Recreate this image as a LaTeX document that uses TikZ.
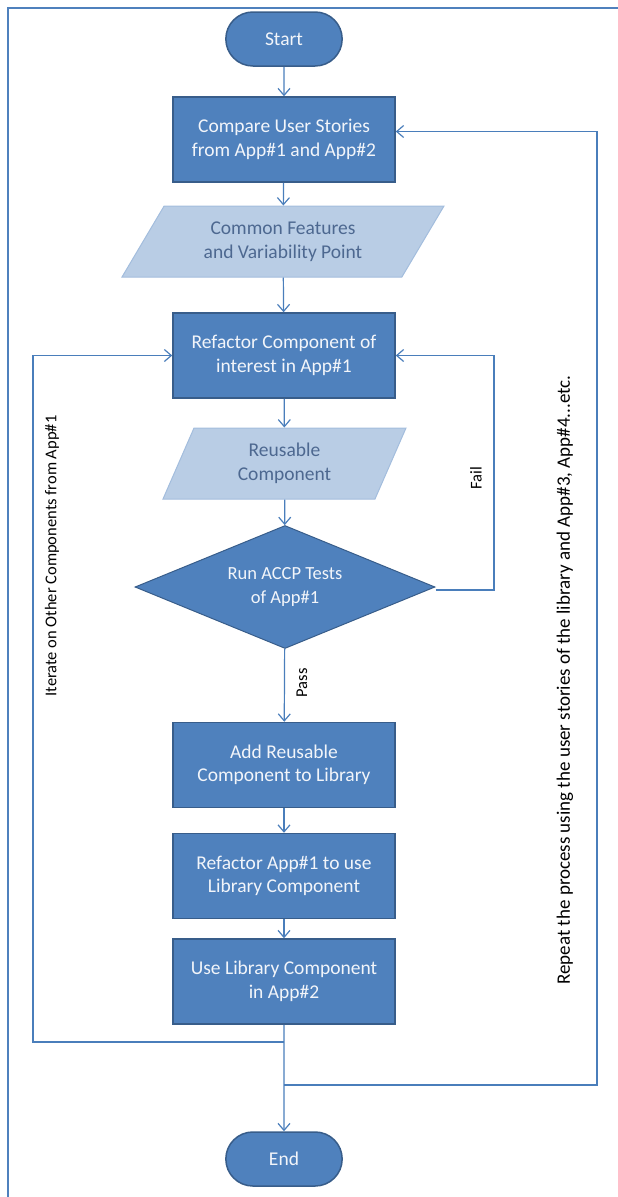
\documentclass[tikz,border=0pt]{standalone}
\usepackage{fontspec}
\setmainfont{Carlito}
\usetikzlibrary{shapes.geometric,shapes.misc,arrows.meta}
\definecolor{boxfill}{HTML}{4F81BD}
\definecolor{boxline}{HTML}{385D8A}
\definecolor{iofill}{HTML}{B9CDE5}
\definecolor{ioline}{HTML}{A3BDDD}
\definecolor{iotext}{HTML}{4D6890}
\definecolor{linkc}{HTML}{4A7EBB}
\definecolor{boxtext}{HTML}{F2F5FA}
\tikzset{
  term/.style={rounded rectangle,draw=boxline,fill=boxfill,line width=1.5pt,
    minimum width=123pt,minimum height=54pt,text=boxtext,font=\fontsize{19.5}{23.5}\selectfont},
  proc/.style={rectangle,draw=boxline,fill=boxfill,line width=1.5pt,align=center,
    minimum width=222pt,minimum height=85pt,text=boxtext,font=\fontsize{19.5}{23.5}\selectfont},
  inout/.style={trapezium,trapezium stretches body,draw=ioline,fill=iofill,line width=1pt,
    align=center,minimum height=71pt,text=iotext,font=\fontsize{19.5}{23.5}\selectfont},
  decide/.style={diamond,aspect=2.44,draw=boxline,fill=boxfill,line width=1pt,align=center,
    minimum width=300pt,minimum height=123pt,inner sep=0pt,text=boxtext,font=\fontsize{18.5}{23.5}\selectfont},
  lbl/.style={rotate=90,font=\fontsize{16.5}{20}\selectfont},
  link/.style={draw=linkc,line width=1.2pt},
}
\begin{document}
\begin{tikzpicture}[x=1pt,y=-1pt,>={Straight Barb[length=7pt,width=12pt]}]
\useasboundingbox (0,0) rectangle (618,1197);
\draw[boxfill,line width=2.5pt] (8,1197) -- (8,8) -- (618,8);

\node[term] (start) at (284,39) {Start};
\node[proc] (cmp) at (284,139.5) {Compare User Stories\\from App\#1 and App\#2};
\node[inout,minimum width=322pt,trapezium left angle=47.5,trapezium right angle=132.5] (feat) at (283,241.5) {Common Features\\and Variability Point};
\node[proc] (refac) at (284,355.5) {Refactor Component of\\interest in App\#1};
\node[inout,minimum width=243pt,trapezium left angle=56.5,trapezium right angle=123.5] (reuse) at (284.5,463.5) {Reusable\\Component};
\node[decide] (tests) at (285,587) {Run ACCP Tests\\of App\#1};
\node[proc] (add) at (284,765) {Add Reusable\\Component to Library};
\node[proc] (useapp) at (284,876) {Refactor App\#1 to use\\Library Component};
\node[proc] (uselib) at (284,981.5) {Use Library Component\\in App\#2};
\node[term] (end) at (284,1159) {End};

\coordinate (iterJ) at (284,1042);
\coordinate (iterL) at (33,1042);
\coordinate (repJ) at (284,1085);
\coordinate (repR) at (597,1085);
\coordinate (failR) at (494,590);

\node[lbl] (iterlbl) at (52,556) {Iterate on Other Components from App\#1};
\node[lbl] (faillbl) at (476,478) {Fail};
\node[lbl] (passlbl) at (302,683) {Pass};
\node[lbl,font=\fontsize{19}{23}\selectfont] (replbl) at (565,680) {Repeat the process using the user stories of the library and App\#3, App\#4...etc.};

\draw[link,->] (start) -- (cmp);
\draw[link,->] (cmp) -- (feat);
\draw[link,->] (feat) -- (refac);
\draw[link,->] (refac) -- (reuse);
\draw[link,->] (reuse) -- (tests);
\draw[link,->] (tests) -- (add);
\draw[link,->] (add) -- (useapp);
\draw[link,->] (useapp) -- (uselib);
\draw[link,->] (uselib) -- (end);
\draw[link,->] (tests.east |- failR) -- (failR) |- (refac.east);
\draw[link,->] (iterJ) -- (iterL) |- (refac.west);
\draw[link,->] (repJ) -- (repR) |- ([yshift=8pt]cmp.east);
\end{tikzpicture}
\end{document}
